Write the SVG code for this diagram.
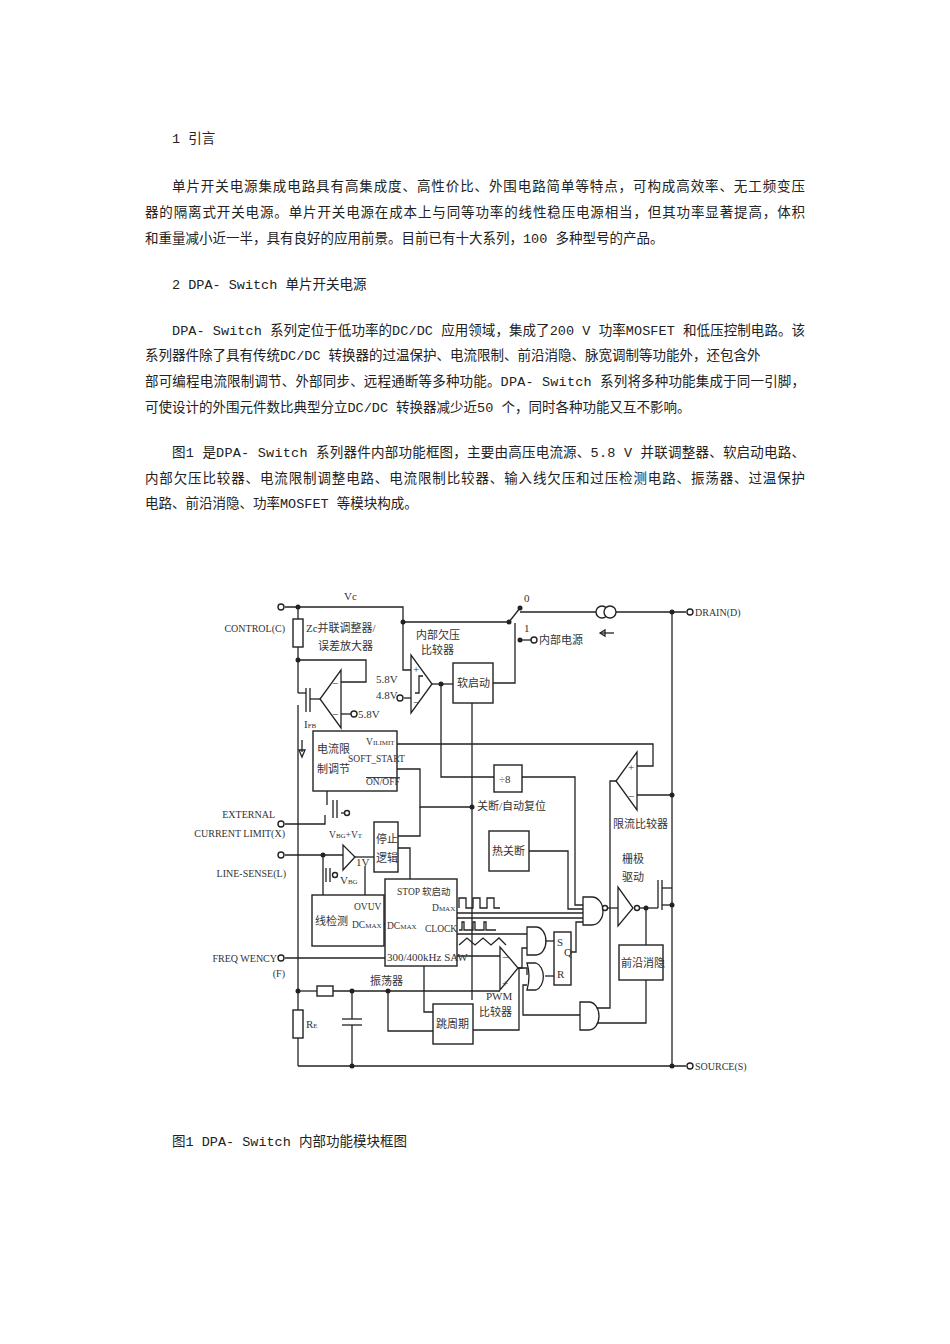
<svg xmlns="http://www.w3.org/2000/svg" width="950" height="1344" viewBox="0 0 950 1344">
<style>
.t{font-family:"Liberation Mono","Noto Sans CJK SC",monospace;font-size:13.5px;fill:#222}
.d{font-family:"Liberation Serif","Noto Sans CJK SC",serif;font-size:11px;fill:#333}
.p{font-size:10px;text-anchor:end}
.m{font-size:9.5px}
.s{font-size:7px}
line,polyline,path{stroke:#222;stroke-width:1.3;fill:none}
rect.b{fill:#fff;stroke:#222;stroke-width:1.4}
.dot{fill:#222}
.o{fill:#fff;stroke:#222;stroke-width:1.4}
</style>
<rect width="950" height="1344" fill="#fff"/>
<g id="text">
<text class="t" x="172" y="143">1 引言</text>
<text class="t" x="172" y="191" textLength="633">单片开关电源集成电路具有高集成度、高性价比、外围电路简单等特点，可构成高效率、无工频变压</text>
<text class="t" x="145" y="217" textLength="660">器的隔离式开关电源。单片开关电源在成本上与同等功率的线性稳压电源相当，但其功率显著提高，体积</text>
<text class="t" x="145" y="243">和重量减小近一半，具有良好的应用前景。目前已有十大系列，100 多种型号的产品。</text>
<text class="t" x="172" y="289">2 DPA- Switch 单片开关电源</text>
<text class="t" x="172" y="335" textLength="633">DPA- Switch 系列定位于低功率的DC/DC 应用领域，集成了200 V 功率MOSFET 和低压控制电路。该</text>
<text class="t" x="145" y="360">系列器件除了具有传统DC/DC 转换器的过温保护、电流限制、前沿消隐、脉宽调制等功能外，还包含外</text>
<text class="t" x="145" y="386" textLength="660">部可编程电流限制调节、外部同步、远程通断等多种功能。DPA- Switch 系列将多种功能集成于同一引脚，</text>
<text class="t" x="145" y="412">可使设计的外围元件数比典型分立DC/DC 转换器减少近50 个，同时各种功能又互不影响。</text>
<text class="t" x="172" y="457" textLength="633">图1 是DPA- Switch 系列器件内部功能框图，主要由高压电流源、5.8 V 并联调整器、软启动电路、</text>
<text class="t" x="145" y="483" textLength="660">内部欠压比较器、电流限制调整电路、电流限制比较器、输入线欠压和过压检测电路、振荡器、过温保护</text>
<text class="t" x="145" y="508">电路、前沿消隐、功率MOSFET 等模块构成。</text>
<text class="t" x="172" y="1146">图1 DPA- Switch 内部功能模块框图</text>
</g>
<g id="connectors">
<polyline points="285,607 403,607 403,670 411,670"/>
<polyline points="403,622 509,622 520,608"/>
<line x1="520" y1="612" x2="596" y2="612"/>
<line x1="616" y1="612" x2="686" y2="612"/>
<line x1="520" y1="640" x2="531" y2="640"/>
<line x1="298" y1="607" x2="298" y2="619"/>
<line x1="298" y1="647" x2="298" y2="693"/>
<polyline points="298,660 366,660 366,682 341,682"/>
<line x1="341" y1="714" x2="351" y2="714"/>
<line x1="298" y1="693" x2="306" y2="693"/>
<line x1="298" y1="705" x2="298" y2="1066"/>
<line x1="320" y1="699" x2="310" y2="699"/>
<line x1="302" y1="740" x2="302" y2="752"/>
<path d="M299,750 L302,757 L305,750 Z" fill="#222"/>
<line x1="404" y1="698" x2="411" y2="698"/>
<polyline points="432,684 453,684"/>
<polyline points="493,683 515,683 515,623"/>
<polyline points="441,684 441,777 494,777"/>
<polyline points="522,777 575,777 575,905 583,905"/>
<line x1="472" y1="703" x2="472" y2="1000"/>
<polyline points="397,744 653,744 653,766 637,766"/>
<polyline points="397,769 420,769 420,807 472,807"/>
<line x1="672" y1="612" x2="672" y2="1066"/>
<line x1="672" y1="795" x2="637" y2="795"/>
<polyline points="616,781 610,781 610,1008 597,1008"/>
<line x1="600" y1="633" x2="614" y2="633"/>
<path d="M600,633 L605,630 L605,636 Z" fill="#222"/>
<polyline points="298,1066 686,1066"/>
<polyline points="285,824 325,824 325,815"/>
<line x1="327" y1="791" x2="327" y2="805"/>
<polyline points="420,807 420,836 398,836"/>
<polyline points="285,855 343,855"/>
<line x1="355" y1="857" x2="374" y2="857"/>
<polyline points="323,855 323,895"/>
<polyline points="398,848 410,848 410,879"/>
<line x1="365" y1="866" x2="365" y2="895"/>
<line x1="384" y1="924" x2="385" y2="924"/>
<line x1="285" y1="958" x2="385" y2="958"/>
<polyline points="298,991 317,991"/>
<polyline points="333,991 500,991"/>
<line x1="352" y1="991" x2="352" y2="1019"/>
<line x1="352" y1="1025" x2="352" y2="1066"/>
<line x1="342" y1="1019" x2="362" y2="1019"/>
<line x1="342" y1="1025" x2="362" y2="1025"/>
<polyline points="388,991 388,1031 433,1031"/>
<polyline points="424,966 424,1012 433,1012"/>
<polyline points="473,1030 519,1030 519,968"/>
<polyline points="529,851 568,851 568,909 583,909"/>
<polyline points="457,913 583,913" stroke-width="2"/>
<polyline points="457,918 583,918" stroke-width="2"/>
<polyline points="457,934 527,934"/>
<polyline points="457,956 500,956"/>
<polyline points="459,908 459,898 466,898 466,908 473,908 473,898 480,898 480,908 487,908 487,898 494,898 494,908 500,908"/>
<polyline points="459,930 462,930 462,922 464,922 464,930 473,930 473,922 475,922 475,930 484,930 484,922 486,922 486,930 496,930"/>
<polyline points="459,945 467,938 475,945 483,938 491,945 499,938 506,945"/>
<polyline points="518,968 527,968 527,975"/>
<polyline points="518,968 522,968 522,948 527,948"/>
<polyline points="545,941 554,941"/>
<polyline points="545,976 554,976"/>
<polyline points="571,952 576,952 576,922 583,922"/>
<polyline points="527,985 523,985 523,1015 580,1015"/>
<line x1="606" y1="908" x2="618" y2="908"/>
<line x1="640" y1="908" x2="658" y2="908"/>
<line x1="646" y1="908" x2="646" y2="945"/>
<polyline points="646,980 646,1023 597,1023"/>
<polyline points="665,888 672,888"/>
<polyline points="665,905 672,905"/>
</g>
<g id="dots">
<circle class="dot" cx="298" cy="607" r="2.5"/><circle class="dot" cx="298" cy="660" r="2.5"/>
<circle class="dot" cx="403" cy="622" r="2.5"/><circle class="dot" cx="509" cy="622" r="2.5"/>
<circle class="dot" cx="520" cy="608" r="2.5"/><circle class="dot" cx="520" cy="640" r="2.5"/>
<circle class="dot" cx="441" cy="684" r="2.5"/><circle class="dot" cx="472" cy="807" r="2.5"/>
<circle class="dot" cx="672" cy="612" r="2.5"/><circle class="dot" cx="672" cy="795" r="2.5"/>
<circle class="dot" cx="672" cy="905" r="2.5"/><circle class="dot" cx="672" cy="1066" r="2.5"/>
<circle class="dot" cx="323" cy="855" r="2.5"/><circle class="dot" cx="298" cy="991" r="2.5"/>
<circle class="dot" cx="352" cy="991" r="2.5"/><circle class="dot" cx="352" cy="1066" r="2.5"/>
<circle class="dot" cx="388" cy="991" r="2.5"/><circle class="dot" cx="646" cy="908" r="2.5"/>
<circle class="o" cx="281" cy="607" r="3"/><circle class="o" cx="690" cy="612" r="3"/>
<circle class="o" cx="534" cy="640" r="3"/><circle class="o" cx="690" cy="1066" r="3"/>
<circle class="o" cx="400" cy="698" r="3"/><circle class="o" cx="354" cy="714" r="3"/>
<circle class="o" cx="281" cy="824" r="3"/><circle class="o" cx="281" cy="855" r="3"/>
<circle class="o" cx="281" cy="958" r="3"/>
</g>
<g id="pins" class="d">
<text x="344" y="600">Vc</text>
<text class="p" x="285" y="632">CONTROL(C)</text>
<text x="695" y="616" font-size="10">DRAIN(D)</text>
<text x="695" y="1070" font-size="10">SOURCE(S)</text>
<text class="p" x="275" y="818">EXTERNAL</text>
<text class="p" x="285" y="837">CURRENT LIMIT(X)</text>
<text class="p" x="286" y="877">LINE-SENSE(L)</text>
<text class="p" x="277" y="962">FREQ WENCY</text>
<text class="p" x="285" y="977">(F)</text>
<text x="524" y="602">0</text><text x="524" y="632">1</text>
<text x="539" y="644">内部电源</text>
</g>
<g id="shunt">
<rect class="b" x="293" y="619" width="10" height="28"/>
<text class="d" x="306" y="632">Zc并联调整器/</text>
<text class="d" x="318" y="650">误差放大器</text>
<path d="M341,670 L341,728 L320,699 Z" fill="#fff"/>
<text class="d" x="332" y="687">−</text><text class="d" x="332" y="718">−</text>
<line x1="306" y1="688" x2="306" y2="712"/><line x1="310" y1="688" x2="310" y2="712"/>
<text class="d" x="358" y="718">5.8V</text>
<text class="d" x="304" y="728">I<tspan class="s">FB</tspan></text>
</g>
<g id="uvcomp">
<path d="M411,655 L411,713 L432,684 Z" fill="#fff"/>
<polyline points="415,693 419,693 419,676 423,676"/>
<text class="d" x="413" y="673">+</text><text class="d" x="413" y="706">−</text>
<text class="d" x="376" y="683">5.8V</text><text class="d" x="376" y="699">4.8V</text>
<text class="d" x="416" y="639">内部欠压</text><text class="d" x="421" y="654">比较器</text>
</g>
<g id="softstart"><rect class="b" x="453" y="663" width="40" height="40"/><text class="d" x="457" y="687">软启动</text></g>
<g id="isource"><circle class="o" cx="602" cy="612" r="6"/><circle class="o" cx="610" cy="612" r="6"/></g>
<g id="ilimit">
<rect class="b" x="313" y="731" width="84" height="60"/>
<text class="d" x="317" y="753">电流限</text><text class="d" x="317" y="773">制调节</text>
<text class="d m" x="366" y="745">V<tspan class="s">ILIMIT</tspan></text>
<text class="d m" x="348" y="762">SOFT_START</text>
<text class="d m" x="366" y="785" text-decoration="overline">ON/OFF</text>
</g>
<g id="div8"><rect class="b" x="494" y="765" width="28" height="27"/><text class="d" x="499" y="783">÷8</text><text class="d" x="477" y="810">关断/自动复位</text></g>
<g id="lcomp">
<path d="M637,752 L637,810 L616,781 Z" fill="#fff"/>
<text class="d" x="628" y="771">+</text><text class="d" x="628" y="800">−</text>
<text class="d" x="613" y="828">限流比较器</text>
</g>
<g id="mos2">
<line x1="333" y1="800" x2="333" y2="818"/><line x1="337" y1="800" x2="337" y2="818"/>
<line x1="341" y1="813" x2="344" y2="813"/><circle class="o" cx="347" cy="813" r="2.5"/>
<text class="d m" x="329" y="838">V<tspan class="s">BG</tspan>+V<tspan class="s">T</tspan></text>
</g>
<g id="stop"><rect class="b" x="374" y="822" width="24" height="50"/><text class="d" x="376" y="843">停止</text><text class="d" x="376" y="862">逻辑</text></g>
<g id="linecomp">
<path d="M343,845 L343,870 L355,857 Z" fill="#fff"/>
<text class="d" x="356" y="866" font-size="8">1V</text>
<line x1="326" y1="868" x2="326" y2="882"/><line x1="330" y1="868" x2="330" y2="882"/>
<circle class="o" cx="335" cy="875" r="2.5"/>
<text class="d" x="340" y="884" font-size="8">V<tspan class="s">BG</tspan></text>
</g>
<g id="linedet"><rect class="b" x="312" y="895" width="72" height="51"/><text class="d" x="315" y="925">线检测</text><text class="d m" x="354" y="910">OVUV</text><text class="d m" x="352" y="928">DC<tspan class="s">MAX</tspan></text></g>
<g id="osc">
<rect class="b" x="385" y="879" width="72" height="87"/>
<text class="d m" x="397" y="895">STOP 软启动</text>
<text class="d m" x="432" y="911">D<tspan class="s">MAX</tspan></text>
<text class="d m" x="387" y="929">DC<tspan class="s">MAX</tspan></text>
<text class="d m" x="425" y="932">CLOCK</text>
<text class="d" x="387" y="961" font-size="8.5">300/400kHz SAW</text>
<text class="d" x="370" y="985">振荡器</text>
</g>
<g id="rc">
<rect class="b" x="317" y="986" width="16" height="10"/>
<rect class="b" x="293" y="1010" width="10" height="28"/>
<text class="d" x="306" y="1028">R<tspan class="s">E</tspan></text>
</g>
<g id="skip"><rect class="b" x="433" y="1004" width="40" height="40"/><text class="d" x="436" y="1028">跳周期</text></g>
<g id="thermal"><rect class="b" x="489" y="831" width="40" height="40"/><text class="d" x="492" y="855">热关断</text></g>
<g id="nand"><path d="M583,897 L592,897 A11,14 0 0 1 592,925 L583,925 Z" fill="#fff"/><circle class="o" cx="605" cy="908" r="2.5"/></g>
<g id="driver">
<path d="M618,887 L618,926 L633,908 Z" fill="#fff"/><circle class="o" cx="637" cy="908" r="2.5"/>
<text class="d" x="622" y="863">栅极</text><text class="d" x="622" y="881">驱动</text>
</g>
<g id="mosfet"><line x1="658" y1="880" x2="658" y2="908"/><line x1="662" y1="880" x2="662" y2="910"/><line x1="662" y1="888" x2="665" y2="888"/><line x1="662" y1="905" x2="665" y2="905"/></g>
<g id="leb"><rect class="b" x="619" y="945" width="44" height="35"/><text class="d" x="621" y="967">前沿消隐</text></g>
<g id="and1"><path d="M527,927 L536,927 A10,14 0 0 1 536,955 L527,955 Z" fill="#fff"/></g>
<g id="and2"><path d="M527,963 L536,963 A10,14 0 0 1 536,990 L527,990 Q531,976 527,963 Z" fill="#fff"/></g>
<g id="sr"><rect class="b" x="554" y="932" width="17" height="53"/><text class="d" x="557" y="946">S</text><text class="d" x="564" y="956" font-size="8">Q</text><text class="d" x="557" y="978" font-size="8">R</text></g>
<g id="pwm">
<path d="M500,947 L500,990 L518,968 Z" fill="#fff"/>
<text class="d" x="502" y="961" font-size="8">−</text><text class="d" x="502" y="987" font-size="8">+</text>
<text class="d" x="486" y="1000" font-size="9">PWM</text><text class="d" x="479" y="1016">比较器</text>
</g>
<g id="and3"><path d="M580,1002 L589,1002 A10,14 0 0 1 589,1030 L580,1030 Z" fill="#fff"/></g>
</svg>
